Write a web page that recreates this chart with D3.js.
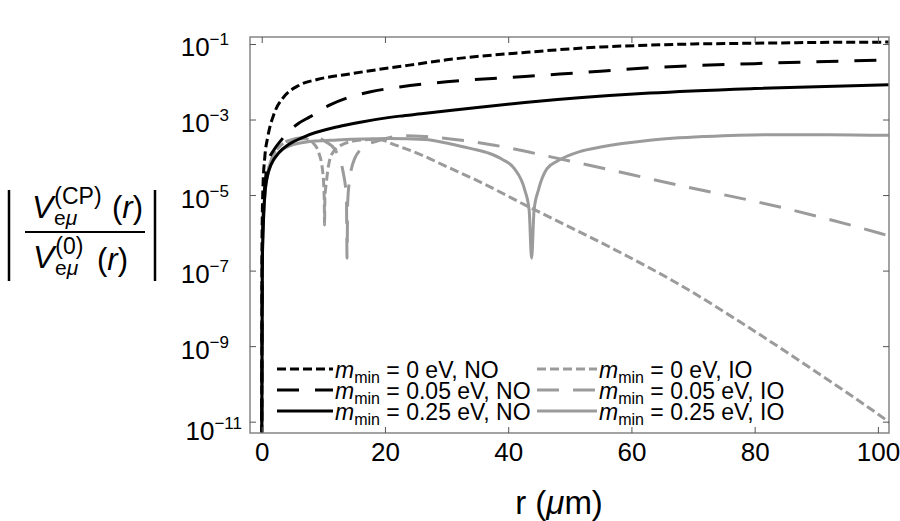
<!DOCTYPE html>
<html>
<head>
<meta charset="utf-8">
<script src="https://cdn.jsdelivr.net/npm/d3@7"></script>
<style>
  html, body { margin: 0; padding: 0; background: #fff; }
  svg { display: block; font-family: "Liberation Sans", Arial, Helvetica, sans-serif; }
</style>
</head>
<body>
<div id="chart"></div>
<script>
// r in micrometres, second value = log10 |V_CP / V_0|
const no0 = [[0,-12],[0.05,-6.2],[0.1,-5.5],[0.2,-4.8],[0.5,-4.0],[1,-3.45],[2,-2.85],[3.5,-2.42],[6,-2.1],[9,-1.94],[14,-1.8],[20,-1.65],[24,-1.56],[30,-1.42],[43,-1.22],[55,-1.08],[63,-1.03],[70,-1.0],[80,-0.98],[90,-0.96],[102,-0.95]]
const no05 = [[0,-12],[0.1,-6.5],[0.3,-5.3],[0.6,-4.6],[1,-4.15],[2,-3.8],[2.9,-3.6],[4.5,-3.3],[6,-3.1],[7.8,-2.93],[11,-2.62],[14,-2.42],[17.5,-2.27],[22.4,-2.14],[30,-2.0],[42.7,-1.86],[55,-1.72],[63,-1.63],[80,-1.52],[102,-1.42]]
const no25 = [[0,-12],[0.1,-6.8],[0.3,-5.6],[0.5,-5.0],[1,-4.45],[1.5,-4.2],[2.9,-3.86],[4.3,-3.67],[7,-3.45],[12.4,-3.19],[16,-3.07],[20.5,-2.95],[22.4,-2.91],[25.9,-2.85],[35,-2.68],[42.7,-2.55],[52,-2.42],[63,-2.3],[80,-2.18],[102,-2.08]]
const io0 = [[0,-12],[0.1,-6.8],[0.3,-5.6],[0.5,-5.0],[1,-4.4],[1.5,-4.1],[3,-3.7],[5,-3.55],[7,-3.51],[8.5,-3.65],[9.2,-3.85],[9.9,-4.38],[10.15,-5.1],[10.2,-5.79],[10.25,-5.1],[10.5,-4.65],[11.3,-3.94],[13,-3.67],[16.2,-3.54],[18.8,-3.52],[21.6,-3.67],[26.5,-3.98],[29.4,-4.2],[35.4,-4.65],[43.8,-5.35],[57,-6.42],[67.9,-7.38],[78.7,-8.47],[89.5,-9.63],[101.4,-10.96],[102,-11.03]]
const io05 = [[0,-12],[0.1,-6.8],[0.3,-5.6],[0.5,-5.0],[1,-4.4],[1.5,-4.1],[3,-3.68],[4.5,-3.55],[6.5,-3.48],[9,-3.49],[10.5,-3.6],[11.9,-3.8],[13.2,-4.38],[13.75,-5.08],[13.85,-6.67],[13.95,-5.2],[14.3,-4.56],[15.1,-4.03],[16.7,-3.72],[19.4,-3.54],[23.2,-3.43],[26.5,-3.45],[37,-3.66],[50,-4.1],[68,-4.75],[84.4,-5.33],[100.3,-6.01],[102,-6.09]]
const io25 = [[0,-12],[0.1,-6.8],[0.3,-5.6],[0.5,-5.0],[1,-4.45],[2.1,-4.03],[3.7,-3.76],[7,-3.6],[12.3,-3.54],[20.5,-3.5],[26.5,-3.53],[30.5,-3.64],[34,-3.77],[37,-3.9],[39,-4.05],[41,-4.3],[42.7,-4.87],[43.4,-5.4],[43.8,-6.67],[44.2,-5.4],[44.9,-4.87],[46.3,-4.3],[48,-4.1],[51.6,-3.85],[55,-3.73],[63,-3.55],[72,-3.45],[81.6,-3.4],[92,-3.4],[102,-3.42]]

const xTicks = [0, 20, 40, 60, 80, 100]
const yTickExps = [-1, -3, -5, -7, -9, -11]

const legendMasses = ["0", "0.05", "0.25"]
const legendOrderings = ["NO", "IO"]

const black = "#000"
const gray = "#9b9b9b"

const series = [
    { data: no0,  mass: 0, ord: 0, color: black, dash: "9,4" },
    { data: no05, mass: 1, ord: 0, color: black, dash: "22,16" },
    { data: no25, mass: 2, ord: 0, color: black, dash: null },
    { data: io0,  mass: 0, ord: 1, color: gray,  dash: "9,4" },
    { data: io05, mass: 1, ord: 1, color: gray,  dash: "22,14" },
    { data: io25, mass: 2, ord: 1, color: gray,  dash: null }
]

const width = 900, height = 521
const frame = { left: 250, right: 889, top: 37, bottom: 433 }

const svg = d3.select("#chart").append("svg")
    .attr("width", width)
    .attr("height", height)
    .attr("viewBox", [0, 0, width, height])

const x = d3.scaleLinear().domain([-1.9, 101.8]).range([frame.left, frame.right])
const y = d3.scaleLog().domain([10 ** -11.3, 10 ** -0.815]).range([frame.bottom, frame.top])

svg.append("clipPath").attr("id", "plotclip")
    .append("rect")
    .attr("x", frame.left).attr("y", frame.top)
    .attr("width", frame.right - frame.left)
    .attr("height", frame.bottom - frame.top)

// curvas
const line = d3.line()
    .x(d => x(d[0]))
    .y(d => y(10 ** d[1]))
    .curve(d3.curveMonotoneX)

// grises primero, negras encima
const drawOrder = [3, 4, 5, 2, 1, 0]
svg.append("g")
    .attr("clip-path", "url(#plotclip)")
    .selectAll("path")
    .data(drawOrder.map(i => series[i]))
    .join("path")
    .attr("fill", "none")
    .attr("stroke", d => d.color)
    .attr("stroke-width", 3)
    .attr("stroke-dasharray", d => d.dash)
    .attr("d", d => line(d.data))

// marco
const frameColor = "#858585"
svg.append("rect")
    .attr("x", frame.left).attr("y", frame.top)
    .attr("width", frame.right - frame.left)
    .attr("height", frame.bottom - frame.top)
    .attr("fill", "none")
    .attr("stroke", frameColor)
    .attr("stroke-width", 1.5)

const yTickVals = yTickExps.map(e => 10 ** e)

const bottomAxis = svg.append("g")
    .attr("transform", `translate(0,${frame.bottom})`)
    .call(d3.axisBottom(x).tickValues(xTicks).tickSize(-6).tickPadding(10).tickFormat(d3.format("d")))
svg.append("g")
    .attr("transform", `translate(0,${frame.top})`)
    .call(d3.axisTop(x).tickValues(xTicks).tickSize(-6).tickFormat(""))
svg.append("g")
    .attr("transform", `translate(${frame.left},0)`)
    .call(d3.axisLeft(y).tickValues(yTickVals).tickSize(-6).tickFormat(""))
svg.append("g")
    .attr("transform", `translate(${frame.right},0)`)
    .call(d3.axisRight(y).tickValues(yTickVals).tickSize(-6).tickFormat(""))

svg.selectAll(".domain").remove()
svg.selectAll(".tick line").attr("stroke", "#555").attr("stroke-width", 1)

bottomAxis.selectAll("text")
    .attr("font-size", 26)
    .attr("fill", "#000")
    .attr("font-family", "'Liberation Sans', Arial, sans-serif")

// etiquetas del eje y: 10^-n
const yLabels = svg.append("g")
    .selectAll("text")
    .data(yTickExps)
    .join("text")
    .attr("text-anchor", "end")
    .attr("x", d => d === -11 ? 242 : 229)
    .attr("y", d => y(10 ** d) + (d === -11 ? 18 : 12.5))
    .attr("font-size", 26)
    .attr("fill", "#000")
yLabels.append("tspan").text("10")
yLabels.append("tspan")
    .attr("font-size", 17)
    .attr("dy", -11)
    .text(d => "\u2212" + Math.abs(d))

// título eje x
const xTitle = svg.append("text")
    .attr("x", 559).attr("y", 514)
    .attr("text-anchor", "middle")
    .attr("font-size", 33)
    .attr("fill", "#000")
xTitle.append("tspan").text("r (")
xTitle.append("tspan").attr("font-style", "italic").text("\u03bc")
xTitle.append("tspan").text("m)")

// título eje y: |V^(CP)_eμ(r) / V^(0)_eμ(r)|
const yt = svg.append("g").attr("fill", "#000")
function vTerm(g, x0, base, sup) {
    const t = g.append("text").attr("x", x0).attr("y", base).attr("font-size", 32)
    t.append("tspan").attr("font-style", "italic").text("V")
    t.append("tspan").attr("font-size", 23).attr("dx", 1).attr("dy", -14).text(sup)
    g.append("text").attr("x", x0 + 22).attr("y", base + 7)
        .attr("font-size", 21)
        .call(s => s.append("tspan").text("e"))
        .call(s => s.append("tspan").attr("font-style", "italic").text("\u03bc"))
}
function rTerm(g, x0, base) {
    const t = g.append("text").attr("x", x0).attr("y", base).attr("font-size", 31)
    t.append("tspan").text("(")
    t.append("tspan").attr("font-style", "italic").text("r")
    t.append("tspan").text(")")
}
vTerm(yt, 32, 218, "(CP)")
rTerm(yt, 112, 218)
vTerm(yt, 33, 268, "(0)")
rTerm(yt, 97, 270)
yt.append("line").attr("x1", 25).attr("x2", 145).attr("y1", 232).attr("y2", 232)
    .attr("stroke", "#000").attr("stroke-width", 2)
yt.selectAll("line.bar")
    .data([9, 155])
    .join("line")
    .attr("class", "bar")
    .attr("x1", d => d).attr("x2", d => d)
    .attr("y1", 190).attr("y2", 281)
    .attr("stroke", "#000").attr("stroke-width", 2.5)

// leyenda
const legendCols = [
    { x1: 277, x2: 333, tx: 335 },
    { x1: 537, x2: 597, tx: 599 }
]
const legendRows = [369, 390, 411]

const leg = svg.append("g")
    .selectAll("g")
    .data(series)
    .join("g")
leg.append("line")
    .attr("x1", d => legendCols[d.ord].x1)
    .attr("x2", d => legendCols[d.ord].x2)
    .attr("y1", d => legendRows[d.mass])
    .attr("y2", d => legendRows[d.mass])
    .attr("stroke", d => d.color)
    .attr("stroke-width", 3)
    .attr("stroke-dasharray", d => d.dash)
const legText = leg.append("text")
    .attr("x", d => legendCols[d.ord].tx)
    .attr("y", d => legendRows[d.mass] + 8.5)
    .attr("font-size", 23)
    .attr("fill", "#000")
legText.append("tspan").attr("font-style", "italic").text("m")
legText.append("tspan").attr("font-size", 16).attr("dy", 5).text("min")
legText.append("tspan").attr("dy", -5)
    .text(d => ` = ${legendMasses[d.mass]} eV, ${legendOrderings[d.ord]}`)
</script>
</body>
</html>
